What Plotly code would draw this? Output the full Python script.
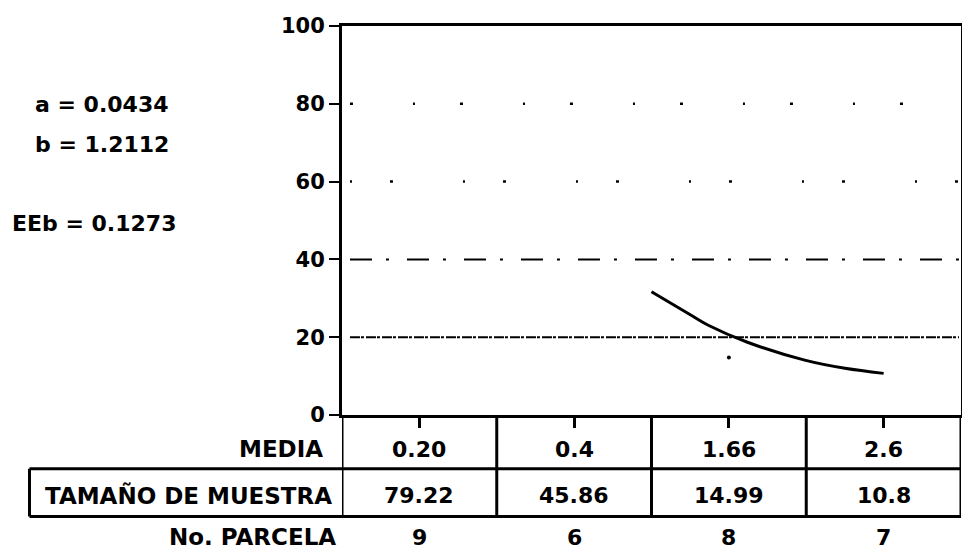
import plotly.graph_objects as go

# ---------------- data ----------------
row_labels = ["MEDIA", "TAMAÑO DE MUESTRA", "No. PARCELA"]
media_labels = ["0.20", "0.4", "1.66", "2.6"]
tamano_labels = ["79.22", "45.86", "14.99", "10.8"]
parcela_labels = ["9", "6", "8", "7"]
param_labels = ["a = 0.0434", "b = 1.2112", "EEb = 0.1273"]

curve_x = [1.50, 1.77, 1.87, 2.12, 2.49, 2.75, 3.00]
curve_y = [31.7, 25.3, 23.0, 18.7, 14.1, 12.0, 10.7]
point_x = [2.0]
point_y = [14.8]

y_ticks = [0, 20, 40, 60, 80, 100]
grid_values = [20, 40, 60, 80]

# ---------------- layout constants (reference pixels) ----------------
OFF = 8                      # page body margin of the browser
W, H = 970 - OFF, 556 - OFF
L, R, T, B = 342 - OFF, 964 - OFF, 24 - OFF, 415 - OFF
PW, PH = R - L, B - T
FONT = "DejaVu Sans"


def px(xref_px):
    return (xref_px - OFF - L) / PW


def py(yref_px):
    return (B - (yref_px - OFF)) / PH


fig = go.Figure()
fig.add_trace(go.Scatter(x=curve_x, y=curve_y, mode="lines",
                         line=dict(color="black", width=3, shape="spline"),
                         showlegend=False, hoverinfo="skip"))
fig.add_trace(go.Scatter(x=point_x, y=point_y, mode="markers",
                         marker=dict(color="black", size=4),
                         showlegend=False, hoverinfo="skip"))

shapes = []
grid_dash = {20: "10px,1px,3px,2px", 40: "22px,14px,3px,18px",
             60: "2px,38px,3px,70px", 80: "3px,60px,2px,45px"}
grid_width = {20: 2, 40: 2, 60: 2.5, 80: 2.5}
for g in grid_values:
    shapes.append(dict(type="line", xref="paper", yref="y",
                       x0=px(350), x1=px(962), y0=g, y1=g,
                       line=dict(color="black", width=grid_width[g], dash=grid_dash[g])))

row1_bot, row2_bot = 469, 517
lw = 3
shapes.append(dict(type="line", xref="paper", yref="paper",
                   x0=px(28), x1=px(964), y0=py(row1_bot), y1=py(row1_bot),
                   line=dict(color="black", width=lw)))
shapes.append(dict(type="line", xref="paper", yref="paper",
                   x0=px(28), x1=px(964), y0=py(row2_bot), y1=py(row2_bot),
                   line=dict(color="black", width=lw)))
shapes.append(dict(type="line", xref="paper", yref="paper",
                   x0=px(28), x1=px(28), y0=py(row1_bot), y1=py(row2_bot),
                   line=dict(color="black", width=lw)))
for i in range(len(media_labels) + 1):
    shapes.append(dict(type="line", xref="x", yref="paper",
                       x0=i - 0.5, x1=i - 0.5, y0=0, y1=py(row2_bot),
                       line=dict(color="black", width=lw)))

ann = []
for lab, xr, yp in zip(row_labels, [325, 334, 338], [449, 496, 538]):
    ann.append(dict(x=px(xr), y=py(yp), xref="paper", yref="paper",
                    text=lab, showarrow=False, xanchor="right", yanchor="middle",
                    font=dict(family=FONT, size=23, color="black", weight="bold")))
for vals, yp in [(media_labels, 450), (tamano_labels, 496), (parcela_labels, 538)]:
    for i, v in enumerate(vals):
        ann.append(dict(x=i, y=py(yp), xref="x", yref="paper", text=v,
                        showarrow=False, xanchor="center", yanchor="middle",
                        font=dict(family=FONT, size=22, color="black", weight="bold")))
for lab, (xp, yp) in zip(param_labels, [(32, 103), (32, 143), (8, 223)]):
    ann.append(dict(x=px(xp), y=py(yp), xref="paper", yref="paper", text=lab,
                    showarrow=False, xanchor="left", yanchor="middle",
                    font=dict(family=FONT, size=22, color="black", weight="bold")))

fig.update_layout(
    width=W, height=H,
    margin=dict(l=L, r=W - R, t=T, b=H - B),
    paper_bgcolor="white", plot_bgcolor="white",
    shapes=shapes, annotations=ann, showlegend=False,
    xaxis=dict(range=[-0.5, len(media_labels) - 0.5], tickvals=list(range(len(media_labels))),
               showticklabels=False, ticks="outside", ticklen=10, tickwidth=2.5,
               tickcolor="black", showgrid=False, zeroline=False,
               showline=True, linecolor="black", linewidth=3, mirror=True),
    yaxis=dict(range=[0, 100], tickvals=y_ticks, ticks="outside", ticklen=10,
               tickwidth=2, tickcolor="black", showgrid=False, zeroline=False,
               showline=True, linecolor="black", linewidth=3, mirror=True,
               tickfont=dict(family=FONT, size=21, color="black", weight="bold")),
)

fig.write_html("out.html")
